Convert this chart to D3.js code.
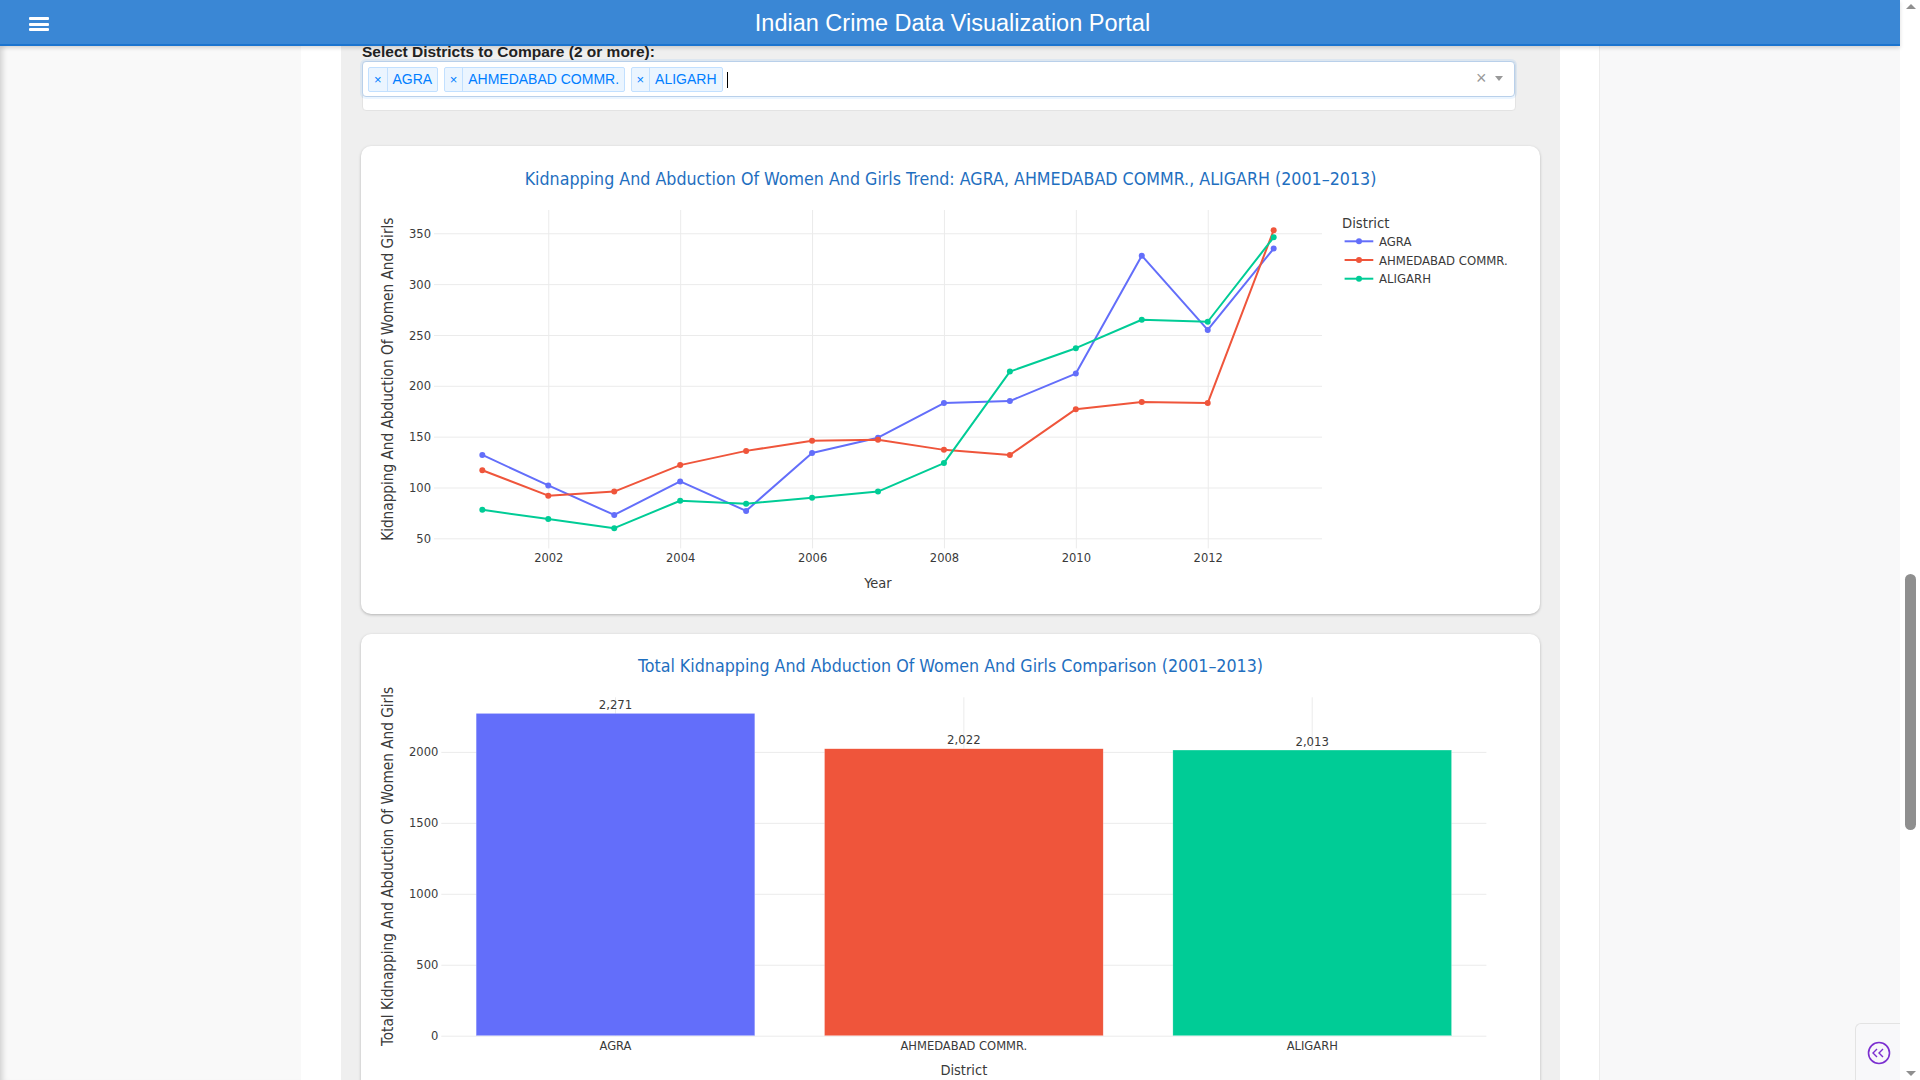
<!DOCTYPE html>
<html>
<head>
<meta charset="utf-8">
<title>Indian Crime Data Visualization Portal</title>
<script src="https://cdn.jsdelivr.net/npm/d3@7"></script>
<style>
html, body { margin: 0; padding: 0; width: 1920px; height: 1080px; overflow: hidden; background: #fff;
  font-family: "Liberation Sans", Arial, sans-serif; }
.abs { position: absolute; }
#header { left: 0; top: 0; width: 1900px; height: 44px; background: #3a87d5; border-bottom: 2px solid #1b74cf;
  box-shadow: 0 2px 4px rgba(0,0,0,.15); z-index: 10; color: #fff; }
#header .title { position: absolute; left: 0; width: 1905px; top: 0; line-height: 46px; text-align: center; font-size: 23.5px; }
.bar { position: absolute; left: 29px; width: 20px; height: 3px; background: #fff; border-radius: 1px; }
#leftside { left: 0; top: 46px; width: 301px; height: 1034px; background: #f9f9f9; box-shadow: inset 7px 0 6px -5px rgba(0,0,0,.18); }
#content { left: 341px; top: 46px; width: 1219px; height: 1034px; background: #efefef; }
#rightside { left: 1599px; top: 46px; width: 301px; height: 1034px; background: #f8f8f9; border-left: 1px solid #ececec; }
#scroll { left: 1900px; top: 0; width: 20px; height: 1080px; background: #fff; }
#thumb { left: 1905px; top: 574px; width: 11px; height: 256px; background: #8f8f8f; border-radius: 6px; }
#label { left: 362px; top: 43px; line-height: 18px; font-size: 15.5px; font-weight: bold; color: #222; z-index: 5; }
#selwrap { left: 362px; top: 61px; width: 1152px; height: 48px; background: #fff; border: 1px solid #e3e3e3; border-radius: 4px; }
#control { left: 362px; top: 61px; width: 1151px; height: 34px; background: #fff; border: 1px solid #b9d0ea; border-radius: 4px;
  box-shadow: 0 0 0 2px rgba(0,126,255,.08); }
#tags { left: 368px; top: 67px; display: flex; gap: 5.5px; align-items: center; }
.tag { display: flex; height: 23px; border: 1px solid #c2e0ff; background: #ebf5ff; border-radius: 2px; color: #007eff; font-size: 14px; line-height: 23px; }
.tag .x { width: 17.5px; text-align: center; border-right: 1px solid #c2e0ff; font-size: 13px; }
.tag .t { padding: 0 5px; }
#cursor { left: 727px; top: 72px; width: 1px; height: 16px; background: #000; }
#clear { left: 1476px; top: 68px; font-size: 18px; color: #999; line-height: 20px; }
#arrow { left: 1495px; top: 76px; width: 0; height: 0; border-left: 4.5px solid transparent; border-right: 4.5px solid transparent; border-top: 5px solid #999; }
.card { left: 361px; width: 1179px; background: #fff; border-radius: 10px; box-shadow: 0 1px 3px rgba(0,0,0,.25); }
#card1 { top: 146px; height: 468px; }
#card2 { top: 634px; height: 480px; }
#fab { left: 1855px; top: 1023px; width: 45px; height: 57px; background: #f8f8fa; border: 1px solid #e3e3e3; border-right: none; border-bottom: none; border-radius: 6px 0 0 0; }
</style>
</head>
<body>
<div id="header" class="abs">
  <div class="bar" style="top:17px"></div>
  <div class="bar" style="top:22.5px"></div>
  <div class="bar" style="top:28px"></div>
  <div class="title">Indian Crime Data Visualization Portal</div>
</div>
<div id="leftside" class="abs"></div>
<div id="content" class="abs"></div>
<div id="rightside" class="abs"></div>
<div id="label" class="abs">Select Districts to Compare (2 or more):</div>
<div id="selwrap" class="abs"></div>
<div id="control" class="abs"></div>
<div id="tags" class="abs"></div>
<div id="cursor" class="abs"></div>
<div id="clear" class="abs">×</div>
<div id="arrow" class="abs"></div>
<div id="card1" class="abs card"></div>
<div id="card2" class="abs card"></div>
<div id="fab" class="abs"></div>
<div id="scroll" class="abs"></div>
<div id="thumb" class="abs"></div>

<script>
// values
const years = [2001, 2002, 2003, 2004, 2005, 2006, 2007, 2008, 2009, 2010, 2011, 2012, 2013];
const agraCases = [132, 102, 73, 106, 77, 134, 149, 183, 185, 212, 328, 255, 335];
const ahmedabadCases = [117, 92, 96, 122, 136, 146, 147, 137, 132, 177, 184, 183, 353];
const aligarhCases = [78, 69, 60, 87, 84, 90, 96, 124, 214, 237, 265, 263, 346];
const districts = ["AGRA", "AHMEDABAD COMMR.", "ALIGARH"];
const districtColors = ["#636efa", "#EF553B", "#00cc96"];
const totals = [2271, 2022, 2013];
const yearTicks = [2002, 2004, 2006, 2008, 2010, 2012];
const trendTicks = [50, 100, 150, 200, 250, 300, 350];
const totalTicks = [0, 500, 1000, 1500, 2000];

const plotFont = '"DejaVu Sans Condensed", "DejaVu Sans", sans-serif';
const textColor = "#3a3a3a";
const gridColor = "#ebebeb";
const titleColor = "#1f6fc0";

// selector tags
let tags = d3.select("#tags").selectAll(".tag")
  .data(districts)
  .enter().append("div")
  .attr("class", "tag");
tags.append("div").attr("class", "x").text("×");
tags.append("div").attr("class", "t").text(d => d);

// scroll arrows + collapse button
let sc = d3.select("#scroll").append("svg").attr("width", 20).attr("height", 1080);
sc.append("path").attr("d", "M6,9 L11,4 L16,9 Z").attr("fill", "#8f8f8f");
sc.append("path").attr("d", "M6,1071 L11,1076 L16,1071 Z").attr("fill", "#8f8f8f");
let fab = d3.select("#fab").append("svg").attr("width", 45).attr("height", 57);
fab.append("circle").attr("cx", 23).attr("cy", 29).attr("r", 10.5)
   .attr("fill", "none").attr("stroke", "#7b2fd0").attr("stroke-width", 1.6);
fab.append("path").attr("d", "M21,25 L17,29 L21,33 M27,25 L23,29 L27,33")
   .attr("fill", "none").attr("stroke", "#7b2fd0").attr("stroke-width", 1.4);

function styleAxis(g) {
  g.select(".domain").remove();
  g.selectAll(".tick line").attr("stroke", gridColor).attr("stroke-width", 1);
  g.selectAll(".tick text").attr("fill", textColor).attr("font-size", 12.8).attr("font-family", plotFont);
}

// ---------- trend chart ----------
let svg1 = d3.select("#card1").append("svg")
             .attr("width", 1179)
             .attr("height", 468)
             .attr("font-family", plotFont);

const p1 = {left: 73, top: 64, width: 888, height: 338.4};
const xPad = 0.733;
let x1 = d3.scaleLinear()
           .domain([d3.min(years) - xPad, d3.max(years) + xPad])
           .range([0, p1.width]);
let y1 = d3.scaleLinear()
           .domain([40.1, 372.9])
           .range([p1.height, 0]);

let g1 = svg1.append("g").attr("transform", `translate(${p1.left},${p1.top})`);

g1.append("g")
  .attr("transform", `translate(0,${p1.height})`)
  .call(d3.axisBottom(x1).tickValues(yearTicks).tickFormat(d3.format("d")).tickSize(-p1.height).tickPadding(5))
  .call(styleAxis);
g1.append("g")
  .call(d3.axisLeft(y1).tickValues(trendTicks).tickFormat(d3.format("d")).tickSize(-p1.width).tickPadding(3))
  .call(styleAxis);

let series = [
  {name: districts[0], values: agraCases, color: districtColors[0]},
  {name: districts[1], values: ahmedabadCases, color: districtColors[1]},
  {name: districts[2], values: aligarhCases, color: districtColors[2]}
];

let line = d3.line()
             .x((d, i) => x1(years[i]))
             .y(d => y1(d));

series.forEach(s => {
  g1.append("path")
    .datum(s.values)
    .attr("d", line)
    .attr("fill", "none")
    .attr("stroke", s.color)
    .attr("stroke-width", 2)
    .attr("stroke-linejoin", "round");
  g1.selectAll(null)
    .data(s.values)
    .enter().append("circle")
    .attr("cx", (d, i) => x1(years[i]))
    .attr("cy", d => y1(d))
    .attr("r", 3)
    .attr("fill", s.color);
});

svg1.append("text")
    .attr("x", 589.5).attr("y", 33.3)
    .attr("text-anchor", "middle").attr("dominant-baseline", "central")
    .attr("font-size", 17.7).attr("fill", titleColor)
    .text("Kidnapping And Abduction Of Women And Girls Trend: AGRA, AHMEDABAD COMMR., ALIGARH (2001–2013)");

svg1.append("text")
    .attr("transform", `translate(26.5,${p1.top + p1.height / 2}) rotate(-90)`)
    .attr("text-anchor", "middle").attr("dominant-baseline", "central")
    .attr("font-size", 15.2).attr("fill", textColor)
    .text("Kidnapping And Abduction Of Women And Girls");

svg1.append("text")
    .attr("x", p1.left + p1.width / 2).attr("y", 437.3)
    .attr("text-anchor", "middle").attr("dominant-baseline", "central")
    .attr("font-size", 14.5).attr("fill", textColor)
    .text("Year");

// legend
let legend = svg1.append("g").attr("transform", "translate(981,76)");
legend.append("text")
      .attr("x", 0).attr("y", 0)
      .attr("dominant-baseline", "central")
      .attr("font-size", 14.7).attr("fill", textColor)
      .text("District");
let items = legend.selectAll(".item")
                  .data(series)
                  .enter().append("g")
                  .attr("class", "item")
                  .attr("transform", (d, i) => `translate(0,${19.3 + i * 18.7})`);
items.append("line")
     .attr("x1", 2.6).attr("x2", 31.3).attr("y1", 0).attr("y2", 0)
     .attr("stroke", d => d.color).attr("stroke-width", 2);
items.append("circle")
     .attr("cx", 17).attr("cy", 0).attr("r", 3)
     .attr("fill", d => d.color);
items.append("text")
     .attr("x", 37).attr("y", 0)
     .attr("dominant-baseline", "central")
     .attr("font-size", 13).attr("fill", textColor)
     .text(d => d.name);

// ---------- totals chart ----------
let svg2 = d3.select("#card2").append("svg")
             .attr("width", 1179)
             .attr("height", 480)
             .attr("font-family", plotFont);

const p2 = {left: 80.3, top: 63.3, width: 1045.1, height: 338.4};
let x2 = d3.scaleBand()
           .domain(districts)
           .range([0, p2.width])
           .paddingInner(0.2)
           .paddingOuter(0.1);
let y2 = d3.scaleLinear()
           .domain([0, d3.max(totals) * 1.05])
           .range([p2.height, 0]);

let g2 = svg2.append("g").attr("transform", `translate(${p2.left},${p2.top})`);

// vertical grid at category centres
g2.selectAll(".vgrid")
  .data(districts)
  .enter().append("line")
  .attr("x1", d => x2(d) + x2.bandwidth() / 2)
  .attr("x2", d => x2(d) + x2.bandwidth() / 2)
  .attr("y1", 0).attr("y2", p2.height)
  .attr("stroke", gridColor);

g2.append("g")
  .call(d3.axisLeft(y2).tickValues(totalTicks).tickFormat(d3.format("d")).tickSize(-p2.width).tickPadding(3))
  .call(styleAxis);

g2.append("g")
  .attr("transform", `translate(0,${p2.height})`)
  .call(d3.axisBottom(x2).tickSize(0).tickPadding(5))
  .call(styleAxis);

g2.selectAll(".bar")
  .data(totals)
  .enter().append("rect")
  .attr("x", (d, i) => x2(districts[i]))
  .attr("y", d => y2(d))
  .attr("width", x2.bandwidth())
  .attr("height", d => p2.height - y2(d))
  .attr("fill", (d, i) => districtColors[i])
  .attr("stroke", "#fff")
  .attr("stroke-opacity", 0.5)
  .attr("stroke-width", 0.5);

g2.selectAll(".val")
  .data(totals)
  .enter().append("text")
  .attr("x", (d, i) => x2(districts[i]) + x2.bandwidth() / 2)
  .attr("y", d => y2(d) - 9)
  .attr("text-anchor", "middle").attr("dominant-baseline", "central")
  .attr("font-size", 13).attr("fill", textColor)
  .text(d => d3.format(",")(d));

svg2.append("text")
    .attr("x", 589.5).attr("y", 32)
    .attr("text-anchor", "middle").attr("dominant-baseline", "central")
    .attr("font-size", 17.7).attr("fill", titleColor)
    .text("Total Kidnapping And Abduction Of Women And Girls Comparison (2001–2013)");

svg2.append("text")
    .attr("transform", `translate(26.6,${p2.top + p2.height / 2}) rotate(-90)`)
    .attr("text-anchor", "middle").attr("dominant-baseline", "central")
    .attr("font-size", 15.2).attr("fill", textColor)
    .text("Total Kidnapping And Abduction Of Women And Girls");

svg2.append("text")
    .attr("x", p2.left + p2.width / 2).attr("y", 436)
    .attr("text-anchor", "middle").attr("dominant-baseline", "central")
    .attr("font-size", 14.5).attr("fill", textColor)
    .text("District");
</script>
</body>
</html>
